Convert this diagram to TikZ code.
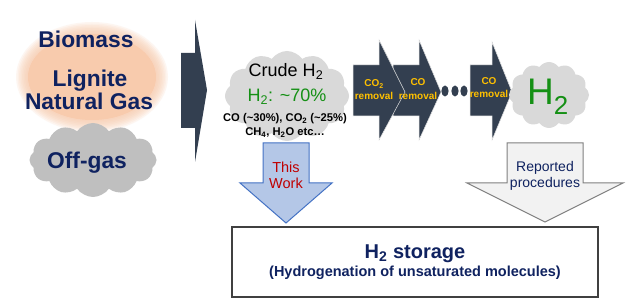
\documentclass[tikz,border=0pt]{standalone}
\usepackage{fontspec}
\setmainfont{Liberation Sans}
\usetikzlibrary{shapes.symbols}
\definecolor{peach}{HTML}{F8CBAD}
\definecolor{navy}{HTML}{0F2260}
\definecolor{slate}{HTML}{333F50}
\definecolor{gold}{HTML}{FFC000}
\definecolor{grn}{HTML}{159015}
\definecolor{cloudA}{HTML}{BFBFBF}
\definecolor{cloudB}{HTML}{D9D9D9}
\definecolor{bluefill}{HTML}{B4C7E7}
\definecolor{blueline}{HTML}{4472C4}
\definecolor{redtxt}{HTML}{C00000}
\newcommand\fs[1]{\fontsize{#1}{#1}\selectfont}
\tikzset{
  src/.style={font=\fs{22.8}\bfseries, text=navy, anchor=base, inner sep=0},
  puff/.style={cloud, cloud puffs=12, cloud puff arc=110, cloud ignores aspect, inner sep=0, draw=none},
  chev/.style={fill=slate, draw=white!75!gray, line width=0.5pt},
  chevtxt/.style={font=\fs{10}\bfseries, text=gold, anchor=base, inner sep=0},
  txt/.style={anchor=base, inner sep=0},
}
\begin{document}
\begin{tikzpicture}[x=1pt,y=-1pt]
\useasboundingbox (0,0) rectangle (634,307);
\fill[white] (0,0) rectangle (634,307);
% peach glowing ellipse
\fill[peach] (92,77) ellipse [x radius=64, y radius=43];
\foreach \k in {1,...,8}{
  \fill[peach, opacity=0.16] (92,77) ellipse [x radius=64+1.5*\k, y radius=43+1.5*\k];
}
\node[src] (biomass) at (86,48) {Biomass};
\node[src] (lignite) at (90,87) {Lignite};
\node[src] (natgas) at (89,110) {Natural Gas};
% off-gas cloud
\node[puff, fill=cloudA, minimum width=127pt, minimum height=74pt] (offcloud) at (93,160) {};
\node[src] (offgas) at (87,168) {Off-gas};
% big arrow
\fill[slate] (181,53) -- (195,53) -- (195,20) -- (207,90) -- (195,162) -- (195,128) -- (181,128) -- cycle;
% crude H2 cloud
\node[puff, fill=cloudB, minimum width=124pt, minimum height=90pt] (crudecloud) at (287,96) {};
\node[txt, font=\fs{18}] (crude) at (286,77) {Crude H\textsubscript{2}};
\node[txt, font=\fs{18}, text=grn] (h2pct) at (287,102) {H\textsubscript{2}: \textasciitilde70\%};
\node[txt, font=\fs{11.2}\bfseries] (coline) at (285,122) {CO (\textasciitilde30\%), CO\textsubscript{2} (\textasciitilde25\%)};
\node[txt, font=\fs{11.2}\bfseries] (chline) at (285,136) {CH\textsubscript{4}, H\textsubscript{2}O etc…};
% process chevrons
\draw[chev] (393,65) -- (419,65) -- (419,40) -- (441,92) -- (419,140) -- (419,116) -- (393,116) -- cycle;
\draw[chev] (353,65) -- (379,65) -- (379,40) -- (405,92) -- (379,140) -- (379,116) -- (353,116) -- cycle;
\draw[chev] (470,65) -- (492,65) -- (492,42) -- (512,92) -- (492,140) -- (492,116) -- (470,116) -- cycle;
\node[chevtxt] (c1a) at (374,87) {CO\textsubscript{2}};
\node[chevtxt] (c1b) at (374,100) {removal};
\node[chevtxt] (c2a) at (418,86) {CO};
\node[chevtxt] (c2b) at (418,100) {removal};
\node[chevtxt] (c3a) at (489,85) {CO};
\node[chevtxt] (c3b) at (489,98) {removal};
\foreach \x in {445,455,464}{
  \fill[slate] (\x,91) ellipse [x radius=3.6, y radius=5.5];
}
% H2 cloud
\node[puff, fill=cloudB, minimum width=80pt, minimum height=66pt] (h2cloud) at (549,95) {};
\node[txt, font=\fs{37}, text=grn] (h2big) at (548,105) {H\textsubscript{2}};
% down arrows
\draw[fill=bluefill, draw=blueline, line width=1pt] (263,143) -- (309,143) -- (309,183) -- (332,183) -- (286,223) -- (240,183) -- (263,183) -- cycle;
\node[txt, font=\fs{14.5}, text=redtxt] (this) at (286,173) {This};
\node[txt, font=\fs{14.5}, text=redtxt] (work) at (286,189) {Work};
\draw[fill=black!5, draw=black!50, line width=1pt] (507,143) -- (583,143) -- (583,183) -- (623,183) -- (545,222) -- (467,183) -- (507,183) -- cycle;
\node[txt, font=\fs{14}, text=navy] (rep) at (545,172) {Reported};
\node[txt, font=\fs{14}, text=navy] (proc) at (545,187) {procedures};
% storage box
\draw[fill=white, draw=black!75, line width=1.3pt] (232,227) rectangle (598,297);
\node[txt, font=\fs{20}\bfseries, text=navy] (stor) at (415,258) {H\textsubscript{2} storage};
\node[txt, font=\fs{14.5}\bfseries, text=navy] (hydro) at (415,276) {(Hydrogenation of unsaturated molecules)};
\end{tikzpicture}
\end{document}
